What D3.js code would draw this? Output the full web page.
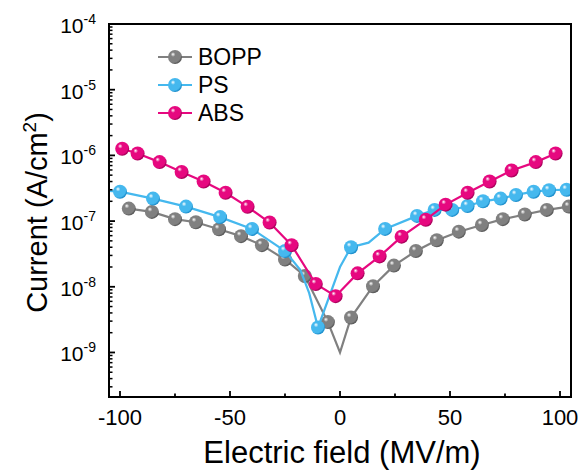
<!DOCTYPE html>
<meta charset="utf-8">
<head>
    <script src="https://d3js.org/d3.v7.min.js"></script>
    <style>
        body { margin: 0; background: #fff; }
        text { font-family: 'Liberation Sans', Arial, sans-serif; fill: #000; }
    </style>
</head>
<body>
<div id="chart"></div>
<script>

// ---- data ----
var seriesNames = ["BOPP", "PS", "ABS"];

// marked points (field in MV/m, current in A/cm2)
var boppField   = [-96, -85.5, -75, -65.5, -55, -45, -35.5, -25, -16, -5.5, 5, 15, 24.5, 34.5, 44, 54, 64.5, 74, 84, 94, 104];
var boppCurrent = [1.55e-7, 1.38e-7, 1.07e-7, 9.6e-8, 7.5e-8, 5.9e-8, 4.3e-8, 2.6e-8, 1.46e-8, 2.9e-9, 3.4e-9, 1.02e-8, 2.1e-8, 3.5e-8, 5.1e-8, 6.9e-8, 8.7e-8, 1.07e-7, 1.26e-7, 1.48e-7, 1.66e-7];
// line vertices without a marker
var boppLineField   = [0];
var boppLineCurrent = [1.0e-9];

var psField   = [-100, -85, -70, -54.5, -40, -25, -10, 5, 20.5, 35, 43, 51, 58, 65, 73, 80, 88, 95, 103];
var psCurrent = [2.8e-7, 2.2e-7, 1.66e-7, 1.15e-7, 7.6e-8, 3.5e-8, 2.4e-9, 4.0e-8, 7.6e-8, 1.2e-7, 1.48e-7, 1.48e-7, 1.7e-7, 2.0e-7, 2.2e-7, 2.5e-7, 2.8e-7, 2.95e-7, 3.0e-7];
var psLineField   = [-107, -18, -14, 0, 13];
var psLineCurrent = [2.9e-7, 1.8e-8, 8e-9, 2.0e-8, 4.7e-8];

var absField   = [-99, -92, -82, -72, -62, -52, -42, -32, -22, -11, -2, 8, 18, 28, 39, 48, 58, 68, 78, 89, 98];
var absCurrent = [1.26e-6, 1.07e-6, 7.9e-7, 5.6e-7, 4.0e-7, 2.7e-7, 1.65e-7, 9.5e-8, 4.3e-8, 1.1e-8, 7.2e-9, 1.6e-8, 2.9e-8, 5.8e-8, 1.05e-7, 1.78e-7, 2.7e-7, 4.0e-7, 5.9e-7, 7.9e-7, 1.07e-6];
var absLineField   = [];
var absLineCurrent = [];

var xTicks = [-100, -50, 0, 50, 100];
var xMinorTicks = [-75, -25, 25, 75];
var yExponents = [-4, -5, -6, -7, -8, -9];

var colors = { BOPP: "#808080", PS: "#45b8ee", ABS: "#e6087f" };
var darkColors = { BOPP: "#5a5a5a", PS: "#1e8fcc", ABS: "#a8005a" };

// ---- layout ----
var width = 585, height = 472;
var plotL = 109, plotR = 571, plotT = 24, plotB = 397;

var svg = d3.select("#chart").append("svg")
    .attr("width", width)
    .attr("height", height);

var x = d3.scaleLinear().domain([-105, 105]).range([plotL, plotR]);
var y = d3.scaleLog().domain([2.1e-10, 1e-4]).range([plotB, plotT]);

// sphere gradients
var defs = svg.append("defs");
seriesNames.forEach(function(name) {
    var g = defs.append("radialGradient")
        .attr("id", "ball-" + name)
        .attr("cx", "40%").attr("cy", "38%").attr("r", "60%")
        .attr("fx", "35%").attr("fy", "30%");
    g.append("stop").attr("offset", "0%").attr("stop-color", "#ffffff");
    g.append("stop").attr("offset", "28%").attr("stop-color", colors[name]);
    g.append("stop").attr("offset", "85%").attr("stop-color", colors[name]);
    g.append("stop").attr("offset", "100%").attr("stop-color", darkColors[name]);
});
defs.append("clipPath").attr("id", "plot-clip")
    .append("rect")
    .attr("x", plotL).attr("y", plotT)
    .attr("width", plotR - plotL).attr("height", plotB - plotT);

function zip(fs, cs) {
    return fs.map(function(f, i) { return { f: f, c: cs[i] }; });
}

var series = [
    { name: "BOPP", marks: zip(boppField, boppCurrent), extra: zip(boppLineField, boppLineCurrent) },
    { name: "PS",   marks: zip(psField, psCurrent),     extra: zip(psLineField, psLineCurrent) },
    { name: "ABS",  marks: zip(absField, absCurrent),   extra: zip(absLineField, absLineCurrent) }
];

var line = d3.line()
    .x(function(d) { return x(d.f); })
    .y(function(d) { return y(d.c); });

var plot = svg.append("g").attr("clip-path", "url(#plot-clip)");

series.forEach(function(s) {
    var pts = s.marks.concat(s.extra).sort(function(a, b) { return a.f - b.f; });
    var g = plot.append("g");
    g.append("path")
        .attr("d", line(pts))
        .attr("fill", "none")
        .attr("stroke", colors[s.name])
        .attr("stroke-width", 2.2);
    g.selectAll("circle")
        .data(s.marks)
        .enter()
        .append("circle")
        .attr("cx", function(d) { return x(d.f); })
        .attr("cy", function(d) { return y(d.c); })
        .attr("r", 7)
        .attr("fill", "url(#ball-" + s.name + ")");
});

// ---- axes ----
var axisG = svg.append("g");

// frame
axisG.append("rect")
    .attr("x", plotL).attr("y", plotT)
    .attr("width", plotR - plotL).attr("height", plotB - plotT)
    .attr("fill", "none")
    .attr("stroke", "#000")
    .attr("stroke-width", 2);

// x ticks (inward)
axisG.selectAll("line.xmaj").data(xTicks).enter().append("line")
    .attr("x1", function(d) { return x(d); }).attr("x2", function(d) { return x(d); })
    .attr("y1", plotB).attr("y2", plotB - 6)
    .attr("stroke", "#000").attr("stroke-width", 1.8);
axisG.selectAll("line.xmin").data(xMinorTicks).enter().append("line")
    .attr("x1", function(d) { return x(d); }).attr("x2", function(d) { return x(d); })
    .attr("y1", plotB).attr("y2", plotB - 3.5)
    .attr("stroke", "#000").attr("stroke-width", 1.8);
axisG.selectAll("text.xlab").data(xTicks).enter().append("text")
    .attr("x", function(d) { return x(d); })
    .attr("y", plotB + 28)
    .attr("text-anchor", "middle")
    .style("font-size", "22px")
    .text(function(d) { return d < 0 ? "-" + Math.abs(d) : d; });

// y ticks (inward), major + log minors
var yMinor = [];
y.ticks().forEach(function(v) {
    var e = Math.round(Math.log10(v));
    if (Math.abs(v - Math.pow(10, e)) / v > 1e-6) yMinor.push(v);
});
axisG.selectAll("line.ymin").data(yMinor).enter().append("line")
    .attr("x1", plotL).attr("x2", plotL + 3.5)
    .attr("y1", function(d) { return y(d); }).attr("y2", function(d) { return y(d); })
    .attr("stroke", "#000").attr("stroke-width", 1.5);
axisG.selectAll("line.ymaj").data(yExponents).enter().append("line")
    .attr("x1", plotL).attr("x2", plotL + 6)
    .attr("y1", function(d) { return y(Math.pow(10, d)); }).attr("y2", function(d) { return y(Math.pow(10, d)); })
    .attr("stroke", "#000").attr("stroke-width", 1.8);
var ylab = axisG.selectAll("text.ylab").data(yExponents).enter().append("text")
    .attr("x", plotL - 13)
    .attr("y", function(d) { return y(Math.pow(10, d)) + 9; })
    .attr("text-anchor", "end")
    .style("font-size", "21px");
ylab.append("tspan").text("10");
ylab.append("tspan")
    .attr("dy", -9)
    .style("font-size", "14px")
    .text(function(d) { return "-" + Math.abs(d); });

// axis titles
svg.append("text")
    .attr("x", (plotL + plotR) / 2 + 2)
    .attr("y", 463)
    .attr("text-anchor", "middle")
    .style("font-size", "31px")
    .text("Electric field (MV/m)");

var yt = svg.append("text")
    .attr("transform", "translate(47," + ((plotT + plotB) / 2 + 2) + ") rotate(-90)")
    .attr("text-anchor", "middle")
    .style("font-size", "29px");
yt.append("tspan").text("Current (A/cm");
yt.append("tspan").attr("dy", -11).style("font-size", "19px").text("2");
yt.append("tspan").attr("dy", 11).text(")");

// ---- legend ----
var legend = svg.append("g");
series.forEach(function(s, i) {
    var cy = 57 + i * 28;
    legend.append("line")
        .attr("x1", 158).attr("x2", 192)
        .attr("y1", cy).attr("y2", cy)
        .attr("stroke", colors[s.name]).attr("stroke-width", 2.2);
    legend.append("circle")
        .attr("cx", 175).attr("cy", cy).attr("r", 7)
        .attr("fill", "url(#ball-" + s.name + ")");
    legend.append("text")
        .attr("x", 198).attr("y", cy + 8)
        .style("font-size", "23px")
        .text(s.name);
});

</script>
</body>
